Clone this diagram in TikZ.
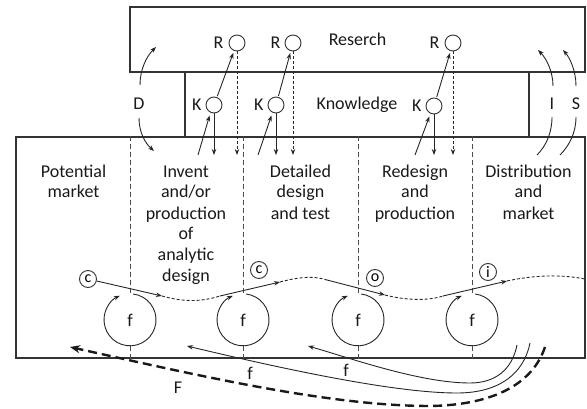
\documentclass[tikz,border=0pt]{standalone}
\usepackage{fontspec}
\setmainfont{Carlito}
\usetikzlibrary{arrows.meta,positioning}
\begin{document}
\begin{tikzpicture}[x=1pt,y=1pt,
  font=\fontsize{18}{21}\selectfont,
  boxst/.style={draw=black!80, line width=2pt, inner sep=0pt, text=black!90},
  boxline/.style={draw=black!80, line width=2pt},
  smallc/.style={circle, draw=black!80, line width=0.9pt, minimum size=16pt, inner sep=0pt},
  letc/.style={circle, draw=black!80, line width=0.9pt, minimum size=17pt, inner sep=0pt, font=\fontsize{16}{16}\selectfont},
  lbl/.style={inner sep=0pt, text=black!90},
  fcirc/.style={circle, minimum size=52pt, inner sep=0pt, text=black!90},
  arr/.style={draw=black!85, line width=0.9pt, -{Stealth[length=6pt,width=4.5pt]}},
  plain/.style={draw=black!85, line width=0.9pt},
  darr/.style={arr, dash pattern=on 3pt off 2pt},
  dline/.style={draw=black!85, line width=0.9pt, dash pattern=on 3pt off 2pt},
  sep/.style={draw=black!70, line width=0.8pt, dash pattern=on 5pt off 3pt},
  bigarr/.style={draw=black!90, line width=2.4pt, dash pattern=on 9pt off 5pt, -{Stealth[length=10pt,width=8pt]}}]
\useasboundingbox (0,0) rectangle (587,408);

% boxes
\node[boxst, minimum width=455pt, minimum height=65pt] (research) at (357.5,368.5) {Reserch};
\node[lbl, minimum width=344pt, minimum height=65pt] (know) at (357,303.5) {Knowledge};
\draw[boxline] (know.north west) -- (know.south west);
\draw[boxline] (know.north east) -- (know.south east);
\node[boxst, minimum width=569pt, minimum height=221pt] (main) at (300.5,160.5) {};

% column texts
\node[lbl, anchor=base] (t1) at (73.5,231) {\begin{tabular}[t]{@{}c@{}}Potential\\market\end{tabular}};
\node[lbl, anchor=base] (t2) at (186,231) {\begin{tabular}[t]{@{}c@{}}Invent\\and/or\\production\\of\\analytic\\design\end{tabular}};
\node[lbl, anchor=base] (t3) at (300.5,231) {\begin{tabular}[t]{@{}c@{}}Detailed\\design\\and test\end{tabular}};
\node[lbl, anchor=base] (t4) at (415,231) {\begin{tabular}[t]{@{}c@{}}Redesign\\and\\production\end{tabular}};
\node[lbl, anchor=base] (t5) at (528.5,231) {\begin{tabular}[t]{@{}c@{}}Distribution\\and\\market\end{tabular}};

% f circles
\foreach \n/\x in {f1/130,f2/243,f3/358,f4/472}{
  \node[fcirc] (\n) at (\x,88) {f};
  \draw[arr] (\n.83) arc[start angle=83, end angle=-247, radius=26];
  \draw[sep] (main.north -| \n) -- (\n.north);
  \draw[sep] (\n.south) -- (main.south -| \n);
}

% R and K circles
\node[smallc] (r1) at (237,365) {};
\node[smallc] (r2) at (293,365) {};
\node[smallc] (r3) at (453,365) {};
\node[smallc] (k1) at (214,303) {};
\node[smallc] (k2) at (276,303) {};
\node[smallc] (k3) at (434,302) {};
\node[lbl, left=5pt of r1] (rl1) {R};
\node[lbl, left=4pt of r2] (rl2) {R};
\node[lbl, left=5pt of r3] (rl3) {R};
\node[lbl, left=4pt of k1] (kl1) {K};
\node[lbl, left=4pt of k2] (kl2) {K};
\node[lbl, left=4pt of k3] (kl3) {K};

\coordinate (k1in) at (198,253);
\coordinate (k2in) at (258,253);
\coordinate (k3in) at (415,253);
\foreach \i in {1,2,3}{
  \draw[arr, shorten >=3pt] (k\i in) -- (k\i.245);
  \draw[arr] (k\i.south) -- (k\i.south |- k\i in);
  \draw[arr, shorten >=2pt, shorten <=1pt] (k\i) -- (r\i);
  \draw[darr] (r\i.south) -- (r\i.south |- k\i in);
}

% D, I, S
\node[lbl] (dl) at (139,304) {D};
\node[lbl] (il) at (552,304) {I};
\node[lbl] (sl) at (576,304) {S};
\coordinate (d1a) at (140,323); \coordinate (d1b) at (156,361);
\coordinate (d2a) at (139,290); \coordinate (d2b) at (154,257);
\draw[arr] (d1a) .. controls (140,338) and (146,351) .. (d1b);
\draw[arr] (d2a) .. controls (139,276) and (145,265) .. (d2b);
\coordinate (i1a) at (553,322); \coordinate (i1b) at (538,358);
\coordinate (i2a) at (537,253); \coordinate (i2b) at (552,291);
\draw[arr] (i1a) .. controls (553,337) and (546,350) .. (i1b);
\draw[plain] (i2a) .. controls (546,262) and (552,275) .. (i2b);
\coordinate (s1a) at (576,322); \coordinate (s1b) at (563,358);
\coordinate (s2a) at (560,253); \coordinate (s2b) at (576,291);
\draw[arr] (s1a) .. controls (576,337) and (570,350) .. (s1b);
\draw[plain] (s2a) .. controls (569,262) and (576,275) .. (s2b);

% circled letters and wave
\node[letc] (cc1) at (88,129) {c};
\node[letc] (cc2) at (259,138) {c};
\node[letc] (co) at (375,130) {o};
\node[letc] (ci) at (488,136) {i};
\coordinate (A1) at (162,112);
\coordinate (A2) at (220,112);
\coordinate (A3) at (280,126);
\coordinate (A4) at (327,128);
\coordinate (A5) at (385,113);
\coordinate (A6) at (443,112);
\coordinate (A7) at (507,127);
\coordinate (A8) at (585,129);
\draw[arr] (cc1) -- (A1);
\draw[dline] (A1) .. controls (180,107) and (198,105) .. (A2);
\draw[arr] (A2) -- (A3);
\draw[dline] (A3) .. controls (295,130) and (312,133) .. (A4);
\draw[arr] (A4) -- (A5);
\draw[dline] (A5) .. controls (400,109) and (425,106) .. (A6);
\draw[arr] (A6) -- (A7);
\draw[dline] (A7) .. controls (525,131) and (555,135) .. (A8);

% bottom feedback arrows
\coordinate (fa0) at (530,65); \coordinate (fa1) at (457,15); \coordinate (fa2) at (187,62);
\coordinate (fb0) at (517,63); \coordinate (fb1) at (470,25); \coordinate (fb2) at (308,62);
\coordinate (F0) at (545,61); \coordinate (F1) at (430,2); \coordinate (F2) at (70,61);
\draw[arr] (fa0) .. controls (524,35) and (500,15) .. (fa1) .. controls (400,15) and (300,35) .. (fa2);
\draw[arr] (fb0) .. controls (512,38) and (495,25) .. (fb1) .. controls (420,25) and (350,50) .. (fb2);
\draw[bigarr] (F0) .. controls (533,25) and (495,3) .. (F1) .. controls (330,2) and (200,32) .. (F2);
\node[lbl] (flA) at (250,35) {f};
\node[lbl] (flB) at (346,38) {f};
\node[lbl] (flF) at (178,20) {F};
\end{tikzpicture}
\end{document}
